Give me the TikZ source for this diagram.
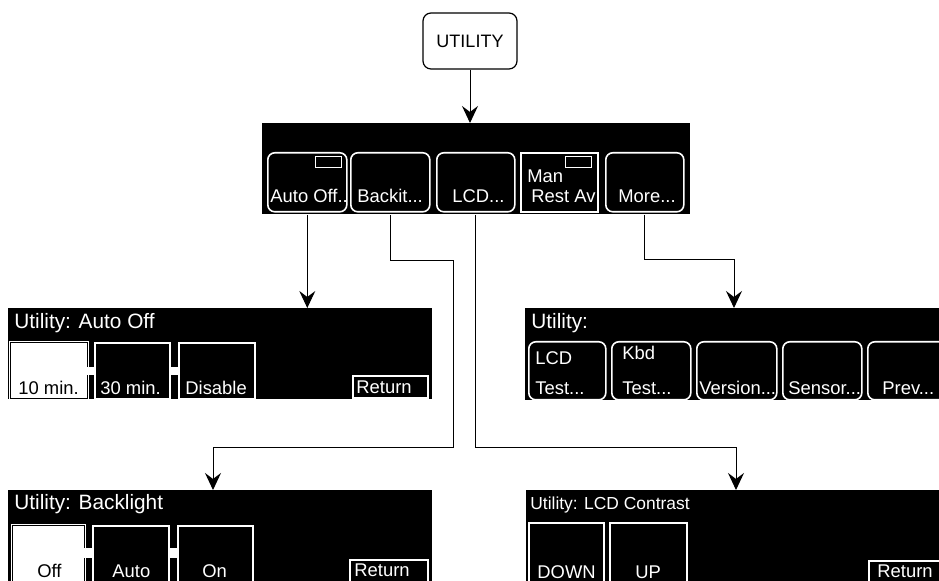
\documentclass[tikz,border=0pt]{standalone}
\usepackage{fontspec}
\setmainfont{Liberation Sans}
\usetikzlibrary{arrows.meta}

\tikzset{
  screen/.style={shape=rectangle,fill=black,anchor=north west,inner sep=0pt},
  softkey/.style={shape=rectangle,draw=white,fill=black,rounded corners=3.5pt,line width=0.8pt,anchor=north west,inner sep=0pt},
  hardkey/.style={shape=rectangle,draw=white,fill=black,line width=1.2pt,anchor=north west,inner sep=0pt},
  pickkey/.style={shape=rectangle,draw=white,double=black,double distance=0.45pt,line width=0.55pt,fill=white,anchor=north west,inner sep=0pt},
  retkey/.style={shape=rectangle,draw=white,fill=black,line width=1pt,anchor=north west,inner sep=0pt},
  flag/.style={shape=rectangle,draw=white,line width=0.6pt,anchor=north west,inner sep=0pt,minimum width=13pt,minimum height=5.5pt},
  link/.style={shape=rectangle,fill=white,anchor=north west,inner sep=0pt},
  keytext/.style={text=white,font=\fontsize{9.2}{11}\selectfont,inner sep=0pt,anchor=base west},
  picktext/.style={keytext,text=black},
  headtext/.style={text=white,font=\fontsize{10.4}{12}\selectfont,inner sep=0pt,anchor=base west},
  conn/.style={draw=black,line width=0.5pt,-{Stealth[length=8.5pt,width=8pt,inset=3pt]}}
}

\begin{document}
\begin{tikzpicture}[x=0.5pt,y=-0.5pt]
\clip (0,0) rectangle (939,581);

% menu key
\node[shape=rectangle,draw=black,line width=0.6pt,rounded corners=4pt,minimum width=47pt,minimum height=28pt,font=\fontsize{9}{11}\selectfont] (util) at (470,41) {UTILITY};

% top screen
\node[screen,minimum width=214pt,minimum height=45.5pt] (sTop) at (262,123) {};
\node[softkey,minimum width=39.5pt,minimum height=29.5pt] (bAuto) at (267,152) {};
\node[softkey,minimum width=39.5pt,minimum height=29.5pt] (bBack) at (350,152) {};
\node[softkey,minimum width=39pt,minimum height=29.5pt] (bLcd) at (436,152) {};
\node[hardkey,minimum width=38.5pt,minimum height=29.5pt] (bMan) at (520,152) {};
\node[softkey,minimum width=39pt,minimum height=29.5pt] (bMore) at (605,152) {};
\node[flag] (fAuto) at (315,156) {};
\node[flag] (fMan) at (565,156) {};
\node[keytext] (tAuto) at (270,203) {Auto Off..};
\node[keytext] (tBack) at (357,203) {Backit...};
\node[keytext] (tLcd) at (452,203) {LCD...};
\node[keytext] (tMan) at (527,183) {Man};
\node[keytext] (tRest) at (531,203) {Rest Av};
\node[keytext] (tMore) at (618,203) {More...};

% auto off screen
\node[screen,minimum width=212pt,minimum height=45.5pt] (sAuto) at (8,308) {};
\node[headtext] (hAuto) at (14,329) {Utility: Auto Off};
\node[pickkey,minimum width=38.5pt,minimum height=28pt] (b10) at (10,342) {};
\node[hardkey,minimum width=37.5pt,minimum height=28pt] (b30) at (94,342) {};
\node[hardkey,minimum width=38pt,minimum height=28pt] (bDis) at (178,342) {};
\node[link,minimum width=3.5pt,minimum height=4pt] (l1) at (87,367) {};
\node[link,minimum width=4.5pt,minimum height=4pt] (l2) at (169,367) {};
\node[retkey,minimum width=37.5pt,minimum height=11pt] (rAuto) at (352,375) {};
\node[picktext] (t10) at (18,395) {10 min.};
\node[keytext] (t30) at (100,395) {30 min.};
\node[keytext] (tDis) at (185,395) {Disable};
\node[keytext] (tRetA) at (356,394) {Return};

% more screen
\node[screen,minimum width=210pt,minimum height=46pt] (sMore) at (525,308) {};
\node[headtext] (hMore) at (531,329) {Utility:};
\node[softkey,minimum width=38.5pt,minimum height=29pt] (kLcdT) at (528,341) {};
\node[softkey,minimum width=39.5pt,minimum height=29pt] (kKbd) at (611,341) {};
\node[softkey,minimum width=40pt,minimum height=29pt] (kVer) at (696,341) {};
\node[softkey,minimum width=39.5pt,minimum height=29pt] (kSen) at (782,341) {};
\node[softkey,minimum width=40pt,minimum height=29pt] (kPrev) at (867,341) {};
\node[keytext] (tLcdT) at (535,365) {LCD};
\node[keytext] (tLcdT2) at (535,395) {Test...};
\node[keytext] (tKbd) at (622,360) {Kbd};
\node[keytext] (tKbd2) at (622,395) {Test...};
\node[keytext] (tVer) at (699,395) {Version...};
\node[keytext] (tSen) at (788,395) {Sensor...};
\node[keytext] (tPrev) at (882,395) {Prev...};

% backlight screen
\node[screen,minimum width=212pt,minimum height=55pt] (sLight) at (8,490) {};
\node[headtext] (hLight) at (14,510) {Utility: Backlight};
\node[pickkey,minimum width=36pt,minimum height=33pt] (bOff) at (12,525) {};
\node[hardkey,minimum width=38pt,minimum height=33pt] (bAutoL) at (92,525) {};
\node[hardkey,minimum width=37.5pt,minimum height=33pt] (bOn) at (177,525) {};
\node[link,minimum width=4pt,minimum height=5pt] (l3) at (84,548) {};
\node[link,minimum width=4.5pt,minimum height=5pt] (l4) at (168,548) {};
\node[retkey,minimum width=39pt,minimum height=11.5pt] (rLight) at (349,559) {};
\node[picktext] (tOff) at (37,578) {Off};
\node[keytext] (tAutoL) at (112,578) {Auto};
\node[keytext] (tOn) at (202,578) {On};
\node[keytext] (tRetL) at (354,577) {Return};

% contrast screen
\node[screen,minimum width=209.5pt,minimum height=55pt] (sLcd) at (526,490) {};
\node[headtext,font=\fontsize{8.7}{10}\selectfont] (hLcd) at (530,510) {Utility: LCD Contrast};
\node[hardkey,minimum width=37.5pt,minimum height=34pt] (bDown) at (528,522) {};
\node[hardkey,minimum width=38.5pt,minimum height=34pt] (bUp) at (609,522) {};
\node[retkey,minimum width=38.5pt,minimum height=12pt] (rLcd) at (868,560) {};
\node[keytext] (tDown) at (537,579) {DOWN};
\node[keytext] (tUp) at (635,579) {UP};
\node[keytext] (tRetC) at (877,578) {Return};

% connectors
\coordinate (kBack1) at (453,261);
\coordinate (kBack2) at (213,448);
\coordinate (kLcd) at (736,448);
\coordinate (kMore) at (734,260);
\draw[conn] (util.south) -- (util.south |- sTop.north);
\draw[conn] (bAuto |- sTop.south) -- (bAuto |- sAuto.north);
\draw[conn] (bBack |- sTop.south) |- (kBack1) |- (kBack2) -- (kBack2 |- sLight.north);
\draw[conn] (bLcd |- sTop.south) |- (kLcd) -- (kLcd |- sLcd.north);
\draw[conn] (bMore |- sTop.south) |- (kMore) -- (kMore |- sMore.north);
\end{tikzpicture}
\end{document}
